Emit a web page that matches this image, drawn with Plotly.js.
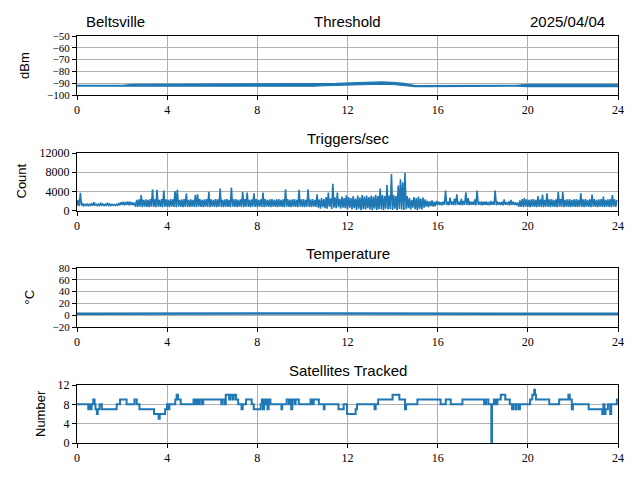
<!DOCTYPE html>
<html>
<head>
<meta charset="utf-8">
<script src="https://cdn.plot.ly/plotly-3.0.1.min.js"></script>
<style>
html,body{margin:0;padding:0;background:#fff;}
#chart{width:640px;height:480px;}
</style>
</head>
<body>
<div id="chart"></div>
<script>
// ---------------- data ----------------
const hourTicks = [0, 4, 8, 12, 16, 20, 24];
const hourTickText = ["0", "4", "8", "12", "16", "20", "24"];

const thrTicks = [-100, -90, -80, -70, -60, -50];
const thrTickText = ["\u2212100", "\u221290", "\u221280", "\u221270", "\u221260", "\u221250"];
const trigTicks = [0, 4000, 8000, 12000];
const trigTickText = ["0", "4000", "8000", "12000"];
const tempTicks = [-20, 0, 20, 40, 60, 80];
const tempTickText = ["\u221220", "0", "20", "40", "60", "80"];
const satTicks = [0, 4, 8, 12];
const satTickText = ["0", "4", "8", "12"];

// Threshold (dBm): low / high envelope per half-hour, hours 0..24
const thrHours = [0,0.5,1,1.5,2,2.5,3,3.5,4,4.5,5,5.5,6,6.5,7,7.5,8,8.5,9,9.5,10,10.5,11,11.5,12,
  12.5,13,13.5,14,14.5,15,15.5,16,16.5,17,17.5,18,18.5,19,19.5,20,20.5,21,21.5,22,22.5,23,23.5,24];
const thrLow = [-92.4,-92.4,-92.4,-92.4,-92.4,
  -92.9,-92.9,-92.9,-92.9,-92.9,-92.9,-92.9,-92.9,-92.9,-92.9,-92.9,-92.9,-92.9,-92.9,-92.9,-92.9,
  -92.6,-92.0,-91.7,-91.4,-91.1,-91.0,-90.9,-91.1,-91.9,-92.9,-92.9,-92.8,
  -92.4,-92.4,-92.4,-92.4,-92.4,-92.4,-92.4,
  -92.9,-92.9,-92.9,-92.9,-92.9,-92.9,-92.9,-92.9,-92.9];
const thrHigh = [-91.8,-91.8,-91.8,-91.8,-91.8,
  -90.9,-90.9,-90.9,-90.9,-90.9,-90.9,-90.9,-90.9,-90.9,-90.9,-90.9,-90.9,-90.9,-90.9,-90.9,-90.9,
  -90.7,-90.3,-90.2,-89.9,-89.5,-89.3,-88.9,-89.3,-90.1,-92.1,-92.1,-92.0,
  -91.8,-91.8,-91.8,-91.8,-91.8,-91.8,-91.8,
  -90.9,-90.9,-90.9,-90.9,-90.9,-90.9,-90.9,-90.9,-90.9];

// Triggers/sec: low / high envelope per 0.1 h bin, starting at hour 0
const trigBinHours = 0.1;
const trigHigh = [
  2200,3700,1400,1300,1350,1300,1400,1700,1350,1300,
  1600,1350,1300,1600,1350,1300,1250,1300,1450,1700,
  1800,1750,1900,1800,1700,1600,2200,2300,3200,2200,
  2300,2200,2400,4400,2300,4300,2200,2400,4150,2300,
  2200,2400,2300,4050,4300,2200,2300,2400,3550,2200,
  2300,2200,3250,3400,2400,2200,2300,2400,3900,2300,
  2200,2400,2300,4600,2200,2300,2400,2200,4800,2300,
  2400,2200,2300,3900,2400,3770,2200,2300,3600,2400,
  2200,2300,3770,2400,2200,2300,2400,2200,2300,2400,
  2200,2300,4400,2400,2200,2300,2400,2200,4300,2300,
  2400,2200,4400,2300,2400,2200,3400,2300,2600,2400,
  2800,3770,2500,5600,2700,3770,2400,2900,2600,3170,
  2800,2600,3000,2500,3100,2700,3200,2900,3100,2800,
  3100,2900,3300,3000,4600,3200,3000,5300,3100,7600,
  3200,3000,5200,6500,5900,7900,3000,2600,2200,2800,
  2600,2900,2500,2700,2300,2000,1900,2100,1800,2000,
  1800,1700,1900,4150,1800,2700,1900,2500,3400,1800,
  2400,2000,3770,2600,1900,1800,2300,4150,1800,1900,
  1800,1900,1700,2000,1800,4150,1900,1700,1800,2300,
  1700,1900,2200,1800,1700,1600,2100,2400,2650,2300,
  2200,2300,2400,2200,3000,2300,3300,2200,3600,2300,
  2400,2200,2300,3900,2400,3900,2200,2300,2400,2200,
  2300,2400,2200,3600,2300,2400,2200,2300,3300,2400,
  2200,2300,2400,2900,2200,2300,2400,3200,2300,2200];
const trigLow = [
  1000,900,1050,1000,1050,1000,1050,1000,1050,1000,
  1050,1000,1050,1000,1050,1000,1050,1050,1100,1100,
  1150,1100,1150,1100,1150,1100,800,750,800,700,
  800,750,700,800,750,700,800,750,700,800,
  750,700,800,750,700,800,750,700,800,750,
  700,800,750,700,800,750,700,800,750,700,
  800,750,700,800,750,700,800,750,700,800,
  750,700,800,750,700,800,750,700,800,750,
  700,800,750,700,800,750,700,800,750,700,
  800,750,700,800,750,700,800,750,700,800,
  750,700,800,750,700,800,750,600,400,700,
  500,400,800,300,600,500,700,400,600,500,
  300,600,200,500,100,400,0,300,200,500,
  200,0,400,100,300,200,0,400,200,300,
  100,400,0,300,200,100,300,500,200,600,
  300,0,400,200,600,800,700,900,800,900,
  1200,1150,1100,1200,1150,1100,1200,1150,1100,1200,
  1150,1100,1200,1150,1100,1200,1150,1100,1200,1150,
  1100,1200,1150,1100,1200,1150,1100,1200,1150,1100,
  1200,1150,1100,1200,1150,1100,800,750,700,800,
  750,700,800,750,700,800,750,700,800,750,
  700,800,750,700,800,750,700,800,750,700,
  800,750,700,800,750,700,800,750,700,800,
  750,700,800,750,700,800,750,700,800,750];

// Temperature (degC), hourly
const tempHours = [0,1,2,3,4,5,6,7,8,9,10,11,12,13,14,15,16,17,18,19,20,21,22,23,24];
const tempVals = [2.6,2.5,2.6,2.7,2.6,2.5,2.6,2.6,2.7,2.8,2.9,3.0,3.1,3.1,3.0,2.9,2.8,2.7,2.6,2.6,2.5,2.6,2.5,2.6,2.6];

// Satellites tracked: step changes (hour, count)
const satTime = [0.00,0.50,0.55,0.60,0.65,0.72,0.78,0.82,0.88,0.92,
  1.00,1.10,1.76,1.91,2.20,2.55,2.65,2.77,3.42,3.62,
  3.67,3.91,3.99,4.05,4.10,4.36,4.42,4.48,4.60,5.17,
  5.22,5.30,5.38,5.45,5.55,5.60,6.40,6.45,6.55,6.60,
  6.75,6.80,6.90,6.95,7.05,7.15,7.30,7.35,7.50,7.75,
  7.84,8.15,8.20,8.25,8.30,8.35,8.40,8.45,8.50,8.58,
  9.07,9.10,9.30,9.40,9.45,9.50,9.55,9.65,9.70,9.84,
  10.36,10.45,10.50,10.73,10.95,10.98,11.60,11.83,11.98,12.36,
  12.42,13.20,13.25,13.36,14.00,14.30,14.55,14.60,15.10,16.13,
  16.36,16.58,17.10,18.06,18.15,18.25,18.38,18.41,18.50,18.58,
  18.65,18.80,19.00,19.20,19.30,19.35,19.45,19.50,19.60,19.65,
  20.10,20.20,20.28,20.32,20.36,20.95,21.39,21.80,21.86,21.95,
  22.00,22.70,23.30,23.35,23.40,23.45,23.55,23.65,23.70,23.95,
  24.00];
const satVal = [8,7,8,7,8,9,8,7,6,7,
  8,7,8,9,8,9,8,7,6,5,
  6,7,8,7,8,9,10,9,8,9,
  8,9,8,9,8,9,8,9,8,10,
  9,10,9,10,9,8,7,8,9,8,
  7,8,9,7,9,8,9,7,9,8,
  7,8,9,8,9,7,9,8,9,8,
  9,8,9,8,7,8,7,8,6,7,
  8,7,8,9,10,9,7,8,9,8,
  9,8,9,8,9,8,0,8,9,8,
  9,10,9,8,7,8,7,8,7,8,
  9,10,11,10,9,8,9,10,9,7,
  8,7,6,8,6,7,8,6,8,9,
  9];

// ---------------- build ----------------
function envelope(low, high, step) {
  const x = [], y = [];
  for (let i = 0; i < low.length; i++) {
    x.push(i * step); y.push(low[i]);
    x.push(i * step + step / 2); y.push(high[i]);
  }
  return {x: x, y: y};
}

const blue = '#1f77b4';
const trig = envelope(trigLow, trigHigh, trigBinHours);

const traces = [
  {x: thrHours, y: thrLow, xaxis: 'x', yaxis: 'y', type: 'scatter', mode: 'lines',
   line: {color: blue, width: 1.2}},
  {x: thrHours, y: thrHigh, xaxis: 'x', yaxis: 'y', type: 'scatter', mode: 'lines',
   line: {color: blue, width: 1.2}, fill: 'tonexty', fillcolor: blue},
  {x: trig.x, y: trig.y, xaxis: 'x2', yaxis: 'y2', type: 'scatter', mode: 'lines',
   line: {color: blue, width: 1.6}},
  {x: tempHours, y: tempVals, xaxis: 'x3', yaxis: 'y3', type: 'scatter', mode: 'lines',
   line: {color: blue, width: 2.5}},
  {x: satTime, y: satVal, xaxis: 'x4', yaxis: 'y4', type: 'scatter', mode: 'lines',
   line: {color: blue, width: 2, shape: 'hv'}}
];

const xDomain = [77 / 640, 618 / 640];
const tickFont = {family: 'Liberation Serif, DejaVu Serif, serif', size: 12, color: '#000'};
const denseTickFont = {family: 'Liberation Serif, DejaVu Serif, serif', size: 11, color: '#000'};

function xAxis(anchor) {
  return {
    domain: xDomain, anchor: anchor, range: [0, 24],
    tickmode: 'array', tickvals: hourTicks, ticktext: hourTickText,
    showgrid: true, gridcolor: '#b0b0b0', gridwidth: 1,
    showline: true, mirror: true, linecolor: '#000', linewidth: 1,
    ticks: 'outside', ticklen: 4, tickcolor: '#000', tickwidth: 1,
    zeroline: false, tickfont: tickFont, fixedrange: true
  };
}
function yAxis(anchor, dom, range, vals, text, font) {
  return {
    domain: dom, anchor: anchor, range: range,
    tickmode: 'array', tickvals: vals, ticktext: text,
    showgrid: true, gridcolor: '#b0b0b0', gridwidth: 1,
    showline: true, mirror: true, linecolor: '#000', linewidth: 1,
    ticks: 'outside', ticklen: 4, tickcolor: '#000', tickwidth: 1,
    zeroline: false, tickfont: font, fixedrange: true
  };
}
function py(px) { return 1 - px / 480; }

const sansFont = {family: 'Liberation Sans, Arial, sans-serif', size: 15, color: '#000'};
const labelFont = {family: 'Liberation Sans, Arial, sans-serif', size: 13, color: '#000'};

function title(text, xpx, ypx, anchor) {
  return {text: text, xref: 'paper', yref: 'paper', x: xpx / 640, y: py(ypx),
    xanchor: anchor, yanchor: 'middle', showarrow: false, font: sansFont};
}
function ylab(text, xpx, ypx) {
  return {text: text, xref: 'paper', yref: 'paper', x: xpx / 640, y: py(ypx),
    xanchor: 'center', yanchor: 'middle', textangle: -90, showarrow: false, font: labelFont};
}

const layout = {
  width: 640, height: 480,
  margin: {l: 0, r: 0, t: 0, b: 0},
  paper_bgcolor: '#fff', plot_bgcolor: '#fff',
  showlegend: false,
  xaxis: xAxis('y'),
  xaxis2: xAxis('y2'),
  xaxis3: xAxis('y3'),
  xaxis4: xAxis('y4'),
  yaxis: yAxis('x', [py(95), py(36)], [-100, -50], thrTicks, thrTickText, denseTickFont),
  yaxis2: yAxis('x2', [py(210.5), py(153)], [0, 12000], trigTicks, trigTickText, tickFont),
  yaxis3: yAxis('x3', [py(327), py(268)], [-20, 80], tempTicks, tempTickText, denseTickFont),
  yaxis4: yAxis('x4', [py(443), py(385)], [0, 12], satTicks, satTickText, tickFont),
  annotations: [
    title('Beltsville', 84, 21.75, 'left'),
    title('Threshold', 347.5, 21.75, 'center'),
    title('2025/04/04', 607, 21.75, 'right'),
    title('Triggers/sec', 347.5, 138.75, 'center'),
    title('Temperature', 347.5, 253.75, 'center'),
    title('Satellites Tracked', 347.5, 370.75, 'center'),
    ylab('dBm', 24.5, 65.5),
    ylab('Count', 21, 181.5),
    ylab('\u00B0C', 29, 297.5),
    ylab('Number', 40, 414)
  ]
};

Plotly.newPlot('chart', traces, layout, {displayModeBar: false, staticPlot: true});
</script>
</body>
</html>
